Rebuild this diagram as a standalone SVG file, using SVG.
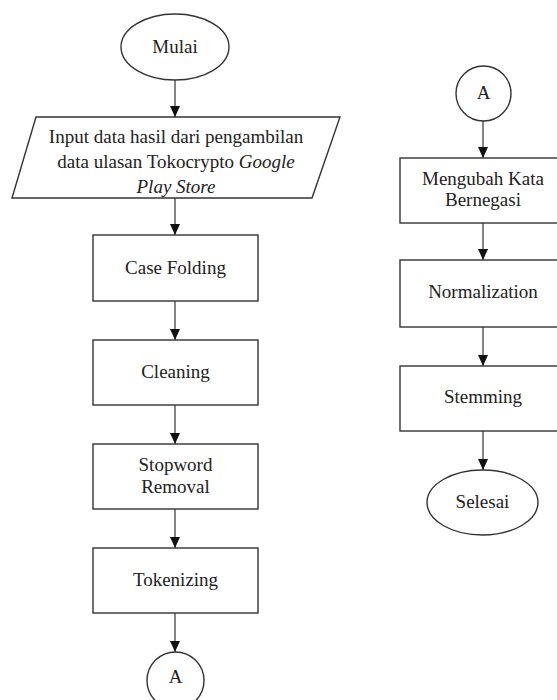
<svg xmlns="http://www.w3.org/2000/svg" width="557" height="700" viewBox="0 0 557 700">
<defs>
<style>
.s{fill:#fff;stroke:#333;stroke-width:1.4}
.c line{stroke:#444;stroke-width:1.3}
text{font-family:"Liberation Serif","Times New Roman",serif;font-size:19px;fill:#222;text-anchor:middle}
.i{font-style:italic}
</style>
<marker id="ah" markerUnits="userSpaceOnUse" markerWidth="11" markerHeight="10" refX="11" refY="5" orient="auto" viewBox="0 0 11 10">
<path d="M0,0 L11,5 L0,10 z" fill="#111"/>
</marker>
</defs>
<rect width="557" height="700" fill="#fff"/>
<g class="c">
<line x1="175" y1="80" x2="175" y2="117" marker-end="url(#ah)"/>
<line x1="175" y1="198" x2="175" y2="235" marker-end="url(#ah)"/>
<line x1="175" y1="301" x2="175" y2="340" marker-end="url(#ah)"/>
<line x1="175" y1="405" x2="175" y2="444" marker-end="url(#ah)"/>
<line x1="175" y1="509" x2="175" y2="548" marker-end="url(#ah)"/>
<line x1="175" y1="613" x2="175" y2="652" marker-end="url(#ah)"/>
<line x1="483" y1="121" x2="483" y2="158" marker-end="url(#ah)"/>
<line x1="483" y1="223" x2="483" y2="260" marker-end="url(#ah)"/>
<line x1="483" y1="327" x2="483" y2="366" marker-end="url(#ah)"/>
<line x1="483" y1="431" x2="483" y2="470" marker-end="url(#ah)"/>
</g>
<g id="mulai">
<ellipse class="s" cx="175" cy="47" rx="54" ry="33"/>
<text x="175" y="53">Mulai</text>
</g>
<g id="input">
<polygon class="s" points="36,117 340,117 312,198 12,198"/>
<text x="176" y="143">Input data hasil dari pengambilan</text>
<text x="176" y="168">data ulasan Tokocrypto <tspan class="i">Google</tspan></text>
<text x="176" y="193" class="i">Play Store</text>
</g>
<g id="casefolding">
<rect class="s" x="93" y="235" width="165" height="66"/>
<text x="175.5" y="274">Case Folding</text>
</g>
<g id="cleaning">
<rect class="s" x="93" y="340" width="165" height="65"/>
<text x="175.5" y="378">Cleaning</text>
</g>
<g id="stopword">
<rect class="s" x="93" y="444" width="165" height="65"/>
<text x="175.5" y="471">Stopword</text>
<text x="175.5" y="493">Removal</text>
</g>
<g id="tokenizing">
<rect class="s" x="93" y="548" width="165" height="65"/>
<text x="175.5" y="586">Tokenizing</text>
</g>
<g id="connA1">
<circle class="s" cx="175.5" cy="680.5" r="28.5"/>
<text x="175.5" y="683">A</text>
</g>
<g id="connA2">
<circle class="s" cx="483.5" cy="93.5" r="27.5"/>
<text x="483.5" y="99">A</text>
</g>
<g id="negasi">
<rect class="s" x="400" y="158" width="166" height="65"/>
<text x="483" y="185">Mengubah Kata</text>
<text x="483" y="206">Bernegasi</text>
</g>
<g id="normalization">
<rect class="s" x="400" y="260" width="166" height="67"/>
<text x="483" y="298">Normalization</text>
</g>
<g id="stemming">
<rect class="s" x="400" y="366" width="166" height="65"/>
<text x="483" y="403">Stemming</text>
</g>
<g id="selesai">
<ellipse class="s" cx="482.5" cy="502.5" rx="55.5" ry="32.5"/>
<text x="482.5" y="508">Selesai</text>
</g>
</svg>
